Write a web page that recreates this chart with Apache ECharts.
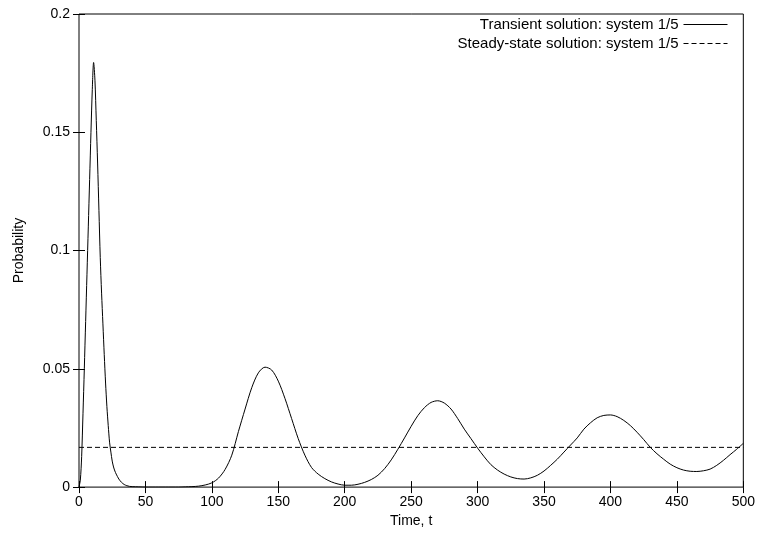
<!DOCTYPE html>
<html>
<head>
<meta charset="utf-8">
<script src="https://cdn.jsdelivr.net/npm/echarts@6/dist/echarts.min.js"></script>
<style>
    html, body { margin: 0; padding: 0; background: #fff; }
    #main { width: 758px; height: 533px; }
</style>
</head>
<body>
<div id="main"></div>
<script>
// time points (denser around the first peak)
var times = [0, 1, 2, 3, 4, 5, 6, 7, 8, 9, 10, 11, 12, 13, 14, 15, 16, 17, 18, 19, 20,
    21, 22, 23, 24, 25, 26, 27, 28, 30, 32, 34, 36, 38, 40,
    45, 50, 55, 60, 65, 70, 75, 80, 85, 90, 95, 100, 105, 110, 115, 120, 125, 130,
    135, 140, 145, 150, 155, 160, 165, 170, 175, 180, 185, 190, 195, 200, 205, 210,
    215, 220, 225, 230, 235, 240, 245, 250, 255, 260, 265, 270, 275, 280, 285, 290,
    295, 300, 305, 310, 315, 320, 325, 330, 335, 340, 345, 350, 355, 360, 365, 370,
    375, 380, 385, 390, 395, 400, 405, 410, 415, 420, 425, 430, 435, 440, 445, 450,
    455, 460, 465, 470, 475, 480, 485, 490, 495, 500];

var transientProb = [0, 0.003, 0.013, 0.031, 0.05, 0.07, 0.09, 0.11, 0.13, 0.15, 0.168,
    0.1795, 0.172, 0.155, 0.137, 0.117, 0.097, 0.082, 0.069, 0.056, 0.044,
    0.034, 0.026, 0.019, 0.0148, 0.011, 0.0085, 0.0068, 0.0055, 0.0034, 0.002, 0.0011, 0.0006, 0.0003, 0.0002,
    0.0001, 0, 0, 0, 0, 0, 0, 0.0001, 0.0002, 0.0004, 0.0009, 0.0018, 0.0038, 0.0075, 0.0135, 0.0235, 0.033, 0.042,
    0.0483, 0.0507, 0.0495, 0.0448, 0.0375, 0.029, 0.0205, 0.0135, 0.0083, 0.0055, 0.0036, 0.0022, 0.0013, 0.0008, 0.0008, 0.0012,
    0.002, 0.0032, 0.005, 0.0078, 0.0115, 0.016, 0.0208, 0.0257, 0.0302, 0.0336, 0.0358, 0.0365, 0.0355, 0.033, 0.029, 0.0245,
    0.0205, 0.0165, 0.0128, 0.0095, 0.0072, 0.0055, 0.0043, 0.0036, 0.0034, 0.0039, 0.005, 0.0068, 0.0092, 0.0118, 0.0148, 0.0178,
    0.0208, 0.0245, 0.0272, 0.0293, 0.0303, 0.0305, 0.0298, 0.0282, 0.026, 0.0232, 0.0201, 0.0168, 0.0141, 0.0118, 0.0097, 0.0082,
    0.0072, 0.0067, 0.0066, 0.0069, 0.0076, 0.0092, 0.0113, 0.0137, 0.016, 0.0185];

var steadyTimes = [0, 500];
var steadyProb = [0.0168, 0.0168];

var seriesNames = ['Transient solution: system 1/5', 'Steady-state solution: system 1/5'];

var font = 'Liberation Sans, Arial, Helvetica, sans-serif';

function pairs(xs, ys) {
    var out = [];
    for (var i = 0; i < xs.length; i++) {
        out.push([xs[i], ys[i]]);
    }
    return out;
}

var tickStyle = { show: true, inside: true, length: 6, lineStyle: { color: '#000' } };
var noLine = { show: false };

var option = {
    animation: false,
    backgroundColor: '#fff',
    grid: {
        left: 79,
        right: 14,
        top: 14,
        bottom: 44,
        show: true,
        borderColor: '#000',
        borderWidth: 1
    },
    legend: {
        data: seriesNames,
        orient: 'vertical',
        right: 25,
        top: 12,
        align: 'right',
        itemWidth: 44,
        itemHeight: 14,
        itemGap: 4,
        itemStyle: { opacity: 0 },   // hide the dot, keep only the line sample
        lineStyle: { width: 1 },
        textStyle: { fontSize: 15, color: '#000', fontFamily: font }
    },
    xAxis: [
        {
            type: 'value',
            min: 0,
            max: 500,
            interval: 50,
            name: 'Time, t',
            nameLocation: 'middle',
            nameGap: 19,
            nameTextStyle: { fontSize: 14, color: '#000', fontFamily: font },
            axisLine: noLine,
            axisTick: tickStyle,
            splitLine: noLine,
            axisLabel: { fontSize: 14, color: '#000', fontFamily: font, margin: 8 }
        },
        {
            type: 'value',
            position: 'top',
            min: 0,
            max: 500,
            interval: 50,
            axisLine: noLine,
            axisTick: tickStyle,
            splitLine: noLine,
            axisLabel: { show: false }
        }
    ],
    yAxis: [
        {
            type: 'value',
            min: 0,
            max: 0.2,
            interval: 0.05,
            name: 'Probability',
            nameLocation: 'middle',
            nameGap: 53,
            nameTextStyle: { fontSize: 14, color: '#000', fontFamily: font },
            axisLine: noLine,
            axisTick: tickStyle,
            splitLine: noLine,
            axisLabel: { fontSize: 14, color: '#000', fontFamily: font, margin: 9 }
        },
        {
            type: 'value',
            position: 'right',
            min: 0,
            max: 0.2,
            interval: 0.05,
            axisLine: noLine,
            axisTick: tickStyle,
            splitLine: noLine,
            axisLabel: { show: false }
        }
    ],
    series: [
        {
            name: seriesNames[0],
            type: 'line',
            data: pairs(times, transientProb),
            symbol: 'none',
            smooth: 0.3,
            color: '#000',
            lineStyle: { color: '#000', width: 1 }
        },
        {
            name: seriesNames[1],
            type: 'line',
            data: pairs(steadyTimes, steadyProb),
            symbol: 'none',
            color: '#000',
            lineStyle: { color: '#000', width: 1, type: [5, 3] }
        }
    ]
};

var myChart = echarts.init(document.getElementById('main'));
myChart.setOption(option);
</script>
</body>
</html>
